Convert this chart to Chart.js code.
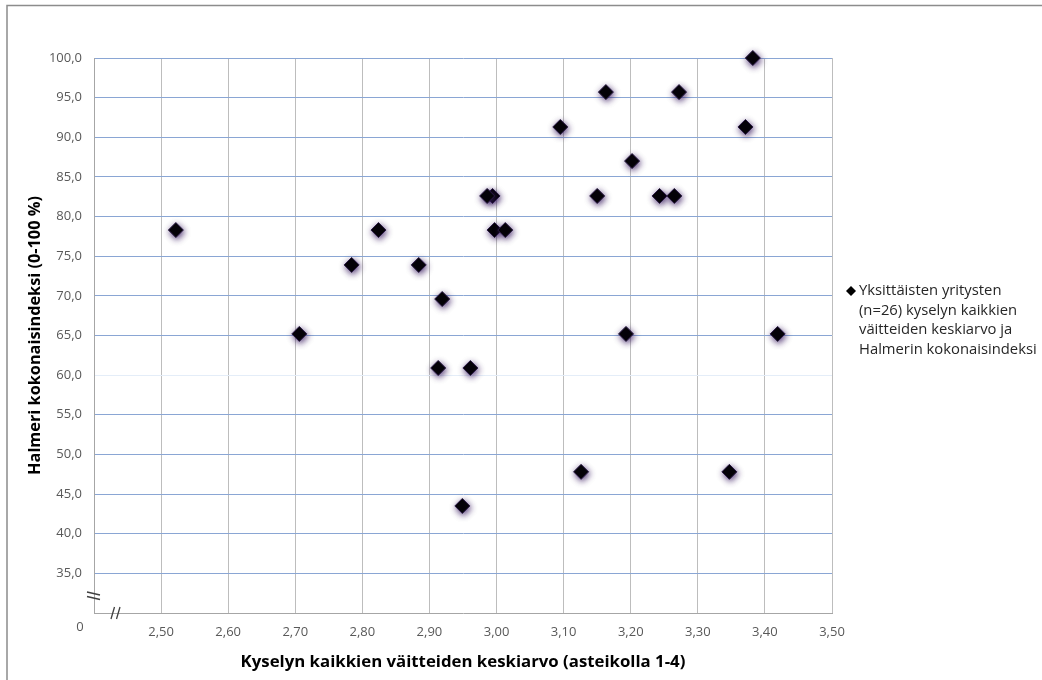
<!DOCTYPE html>
<html>
<head>
<meta charset="utf-8">
<script src="https://cdn.jsdelivr.net/npm/chart.js@4.4.1/dist/chart.umd.min.js"></script>
<style>
  html, body { margin: 0; padding: 0; background: #fff; }
  canvas { display: block; }
</style>
</head>
<body>
<canvas id="chart" width="1042" height="680"></canvas>
<script>
// Mean of all survey statements per company (scale 1-4)
const companyMeans = [
  2.522, 2.706, 2.784, 2.824, 2.884, 2.919, 2.913, 2.961, 2.949,
  2.994, 2.986, 2.997, 3.013, 3.095, 3.163, 3.126, 3.150, 3.202,
  3.193, 3.243, 3.265, 3.272, 3.347, 3.371, 3.382, 3.419
];
// Halmeri overall index per company (0-100 %)
const halmeriIndex = [
  78.3, 65.2, 73.9, 78.3, 73.9, 69.6, 60.9, 60.9, 43.5,
  82.6, 82.6, 78.3, 78.3, 91.3, 95.7, 47.8, 82.6, 87.0,
  65.2, 82.6, 82.6, 95.7, 47.8, 91.3, 100.0, 65.2
];
const legendLines = [
  'Yksittäisten yritysten',
  '(n=26) kyselyn kaikkien',
  'väitteiden keskiarvo ja',
  'Halmerin kokonaisindeksi'
];
const xTitle = 'Kyselyn kaikkien väitteiden keskiarvo (asteikolla 1-4)';
const yTitle = 'Halmeri kokonaisindeksi (0-100 %)';
const originLabel = '0';
const xRange = [2.4, 3.5];
const yRange = [30, 100];

const FONT = '"Open Sans", "Noto Sans", sans-serif';
const fmt = (v, d) => v.toFixed(d).replace('.', ',');

// Frame, shadowed markers, axis-break marks, origin label and legend
const decorations = {
  id: 'decorations',
  beforeDraw(chart) {
    const ctx = chart.ctx;
    ctx.save();
    ctx.fillStyle = '#fff';
    ctx.fillRect(0, 0, chart.width, chart.height);
    ctx.strokeStyle = '#8c8c8c';
    ctx.lineWidth = 1.5;
    ctx.beginPath();
    ctx.moveTo(7, chart.height);
    ctx.lineTo(7, 5.5);
    ctx.lineTo(chart.width, 5.5);
    ctx.stroke();
    ctx.restore();
  },
  beforeDatasetsDraw(chart) {
    const ctx = chart.ctx;
    ctx.save();
    ctx.shadowColor = 'rgba(55,25,95,0.85)';
    ctx.shadowBlur = 6;
    ctx.shadowOffsetX = 1;
    ctx.shadowOffsetY = 2;
  },
  afterDatasetsDraw(chart) {
    chart.ctx.restore();
  },
  afterDraw(chart) {
    const ctx = chart.ctx;
    const a = chart.chartArea;
    ctx.save();
    ctx.strokeStyle = '#404040';
    ctx.lineWidth = 1.3;
    // break mark on the vertical axis
    const by = a.bottom - 17;
    ctx.beginPath();
    ctx.moveTo(a.left - 7, by - 4); ctx.lineTo(a.left + 6, by - 1);
    ctx.moveTo(a.left - 7, by + 0.5); ctx.lineTo(a.left + 6, by + 3.5);
    ctx.stroke();
    // break mark on the horizontal axis
    const bx = a.left + 22;
    ctx.beginPath();
    ctx.moveTo(bx - 5, a.bottom + 6); ctx.lineTo(bx - 1.5, a.bottom - 6);
    ctx.moveTo(bx + 0.5, a.bottom + 6); ctx.lineTo(bx + 4, a.bottom - 6);
    ctx.stroke();
    // shared origin label
    ctx.fillStyle = '#595959';
    ctx.font = '13px ' + FONT;
    ctx.textAlign = 'center';
    ctx.textBaseline = 'middle';
    ctx.fillText(originLabel, a.left - 14, a.bottom + 14);
    // legend
    const lx = 851, ly = 291, lh = 19.5;
    ctx.fillStyle = '#000';
    ctx.beginPath();
    ctx.moveTo(lx - 5, ly); ctx.lineTo(lx, ly - 5);
    ctx.lineTo(lx + 5, ly); ctx.lineTo(lx, ly + 5);
    ctx.closePath();
    ctx.fill();
    ctx.fillStyle = '#262626';
    ctx.font = '14.8px ' + FONT;
    ctx.textAlign = 'left';
    legendLines.forEach((t, i) => ctx.fillText(t, lx + 8, ly + i * lh));
    ctx.restore();
  }
};

new Chart(document.getElementById('chart'), {
  type: 'scatter',
  data: {
    datasets: [{
      label: legendLines.join(' '),
      data: companyMeans.map((x, i) => ({ x, y: halmeriIndex[i] })),
      pointStyle: 'rectRot',
      pointRadius: 7.5,
      backgroundColor: '#000',
      borderColor: '#2a1a45',
      borderWidth: 1,
      clip: false
    }]
  },
  options: {
    responsive: false,
    animation: false,
    events: [],
    layout: { padding: { left: 0, right: 210, top: 58, bottom: 0 } },
    plugins: { legend: { display: false }, tooltip: { enabled: false } },
    scales: {
      x: {
        type: 'linear',
        min: xRange[0], max: xRange[1],
        afterFit(s) { s.height = 67; },
        grid: {
          drawTicks: false,
          color: c => (c.tick && c.tick.value < 2.45) ? 'rgba(0,0,0,0)' : '#bdbdbd',
          lineWidth: 1
        },
        border: { color: '#a6a6a6', width: 1 },
        ticks: {
          stepSize: 0.1,
          padding: 11,
          color: '#595959',
          font: { family: FONT, size: 13 },
          maxRotation: 0,
          autoSkip: false,
          callback: v => v < 2.45 ? '' : fmt(v, 2)
        },
        title: {
          display: true,
          text: xTitle,
          color: '#000',
          font: { family: FONT, size: 16.8, weight: 'bold' },
          padding: { top: 0, bottom: 8 }
        }
      },
      y: {
        type: 'linear',
        min: yRange[0], max: yRange[1],
        afterFit(s) { s.width = 94; },
        grid: {
          drawTicks: false,
          color: c => {
            if (!c.tick) return '#8aa6d4';
            if (c.tick.value < 32) return 'rgba(0,0,0,0)';
            if (c.tick.value === 60) return '#e4edf8';
            return '#8aa6d4';
          },
          lineWidth: 1
        },
        border: { color: '#a6a6a6', width: 1 },
        ticks: {
          stepSize: 5,
          padding: 12,
          color: '#595959',
          font: { family: FONT, size: 13 },
          callback: v => v < 32 ? '' : fmt(v, 1)
        },
        title: {
          display: true,
          text: yTitle,
          color: '#000',
          font: { family: FONT, size: 16.3, weight: 'bold' },
          padding: { top: 26, bottom: 0 }
        }
      }
    }
  },
  plugins: [decorations]
});
</script>
</body>
</html>
